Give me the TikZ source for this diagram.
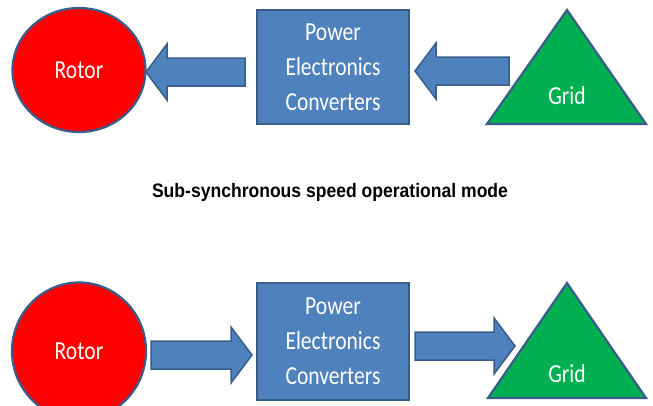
\documentclass[tikz,border=0pt]{standalone}
\usepackage{fontspec}
\setmainfont{Carlito}[FakeStretch=0.83]
\newfontfamily\titlefont{Liberation Sans}[FakeStretch=0.9]
\usetikzlibrary{shapes.geometric,calc}
\definecolor{rotorred}{RGB}{255,0,0}
\definecolor{convblue}{RGB}{79,129,189}
\definecolor{edgeblue}{RGB}{56,93,138}
\definecolor{gridgreen}{RGB}{0,176,80}
\tikzstyle{rotornode}=[ellipse, draw=edgeblue, line width=2.2, fill=rotorred, text=white, inner sep=0, font=\fontsize{26}{35}\selectfont]
\tikzstyle{convnode}=[rectangle, draw=edgeblue, line width=2, fill=convblue, text=white, align=center, inner sep=0, minimum width=152, minimum height=114, font=\fontsize{26}{35}\selectfont]
\tikzstyle{gridshape}=[draw=edgeblue, line width=2.2, fill=gridgreen, line join=miter]
\tikzstyle{gridtext}=[text=white, inner sep=0, anchor=base, font=\fontsize{26}{35}\selectfont]
\tikzstyle{flowarrow}=[draw=edgeblue, line width=1.5, fill=convblue, line join=miter]
\newcommand{\blockarrow}[2]{
  \draw[flowarrow] let \p1=(#1), \p2=(#2), \n1={sign(\x2-\x1)} in
    (\x1,\y1+14pt) -- ({\x2-\n1*21pt},\y1+14pt) -- ({\x2-\n1*21pt},\y1+28pt)
    -- (\x2,\y2) -- ({\x2-\n1*21pt},\y1-28pt) -- ({\x2-\n1*21pt},\y1-14pt)
    -- (\x1,\y1-14pt) -- cycle;
}

\begin{document}
\begin{tikzpicture}[x=1pt, y=-1pt]
      \useasboundingbox (0,0) rectangle (653,405);
      \node[rotornode, minimum width=133, minimum height=124] (rotor1) at (79,70) {Rotor};
      \node[convnode] (conv1) at (333,67) {Power\\Electronics\\Converters};
      \coordinate (gridtop1) at (567,10);
      \coordinate (gridleft1) at (487,124);
      \coordinate (gridright1) at (646,124);
      \draw[gridshape] (gridtop1) -- (gridright1) -- (gridleft1) -- cycle;
      \node[gridtext] (grid1) at (567,104) {Grid};
      \coordinate (arrowtail1) at (245,72);
      \coordinate (arrowtip1) at (146,72);
      \coordinate (arrowtail2) at (509,71);
      \coordinate (arrowtip2) at (415,71);
      \blockarrow{arrowtail1}{arrowtip1}
      \blockarrow{arrowtail2}{arrowtip2}
      \node[font=\titlefont\bfseries\fontsize{19.5}{23}\selectfont, anchor=base] (mode) at (330,197) {Sub-synchronous speed operational mode};
      \node[rotornode, minimum width=134, minimum height=137] (rotor2) at (79,351) {Rotor};
      \node[convnode, minimum height=117] (conv2) at (333,341.5) {Power\\Electronics\\Converters};
      \coordinate (gridtop2) at (567,283);
      \coordinate (gridleft2) at (488,398);
      \coordinate (gridright2) at (646,398);
      \draw[gridshape] (gridtop2) -- (gridright2) -- (gridleft2) -- cycle;
      \node[gridtext] (grid2) at (567,382) {Grid};
      \coordinate (arrowtail3) at (151,355);
      \coordinate (arrowtip3) at (252,355);
      \coordinate (arrowtail4) at (415,346);
      \coordinate (arrowtip4) at (515,346);
      \blockarrow{arrowtail3}{arrowtip3}
      \blockarrow{arrowtail4}{arrowtip4}
    \end{tikzpicture}
\end{document}
